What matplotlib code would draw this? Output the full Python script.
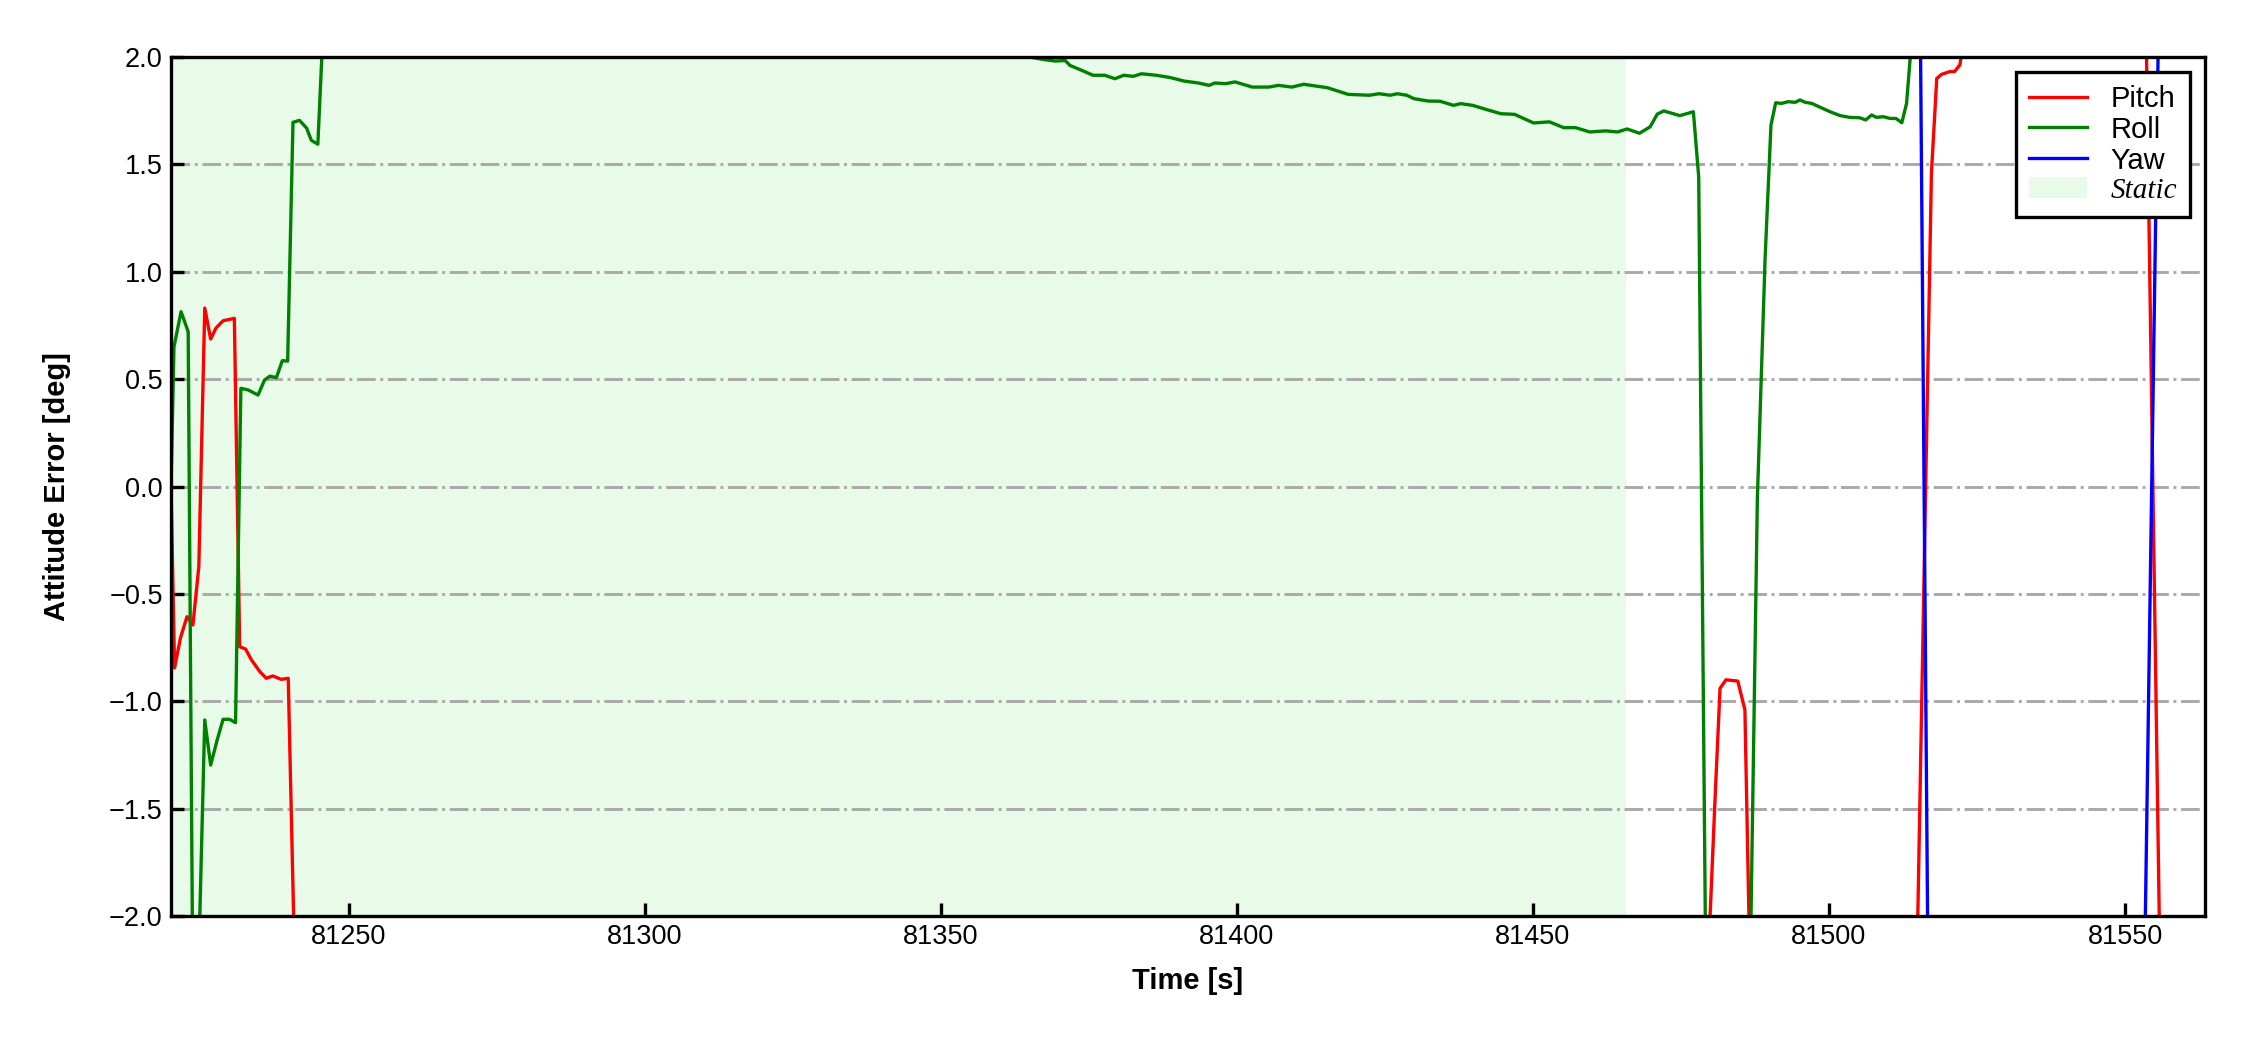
import matplotlib.pyplot as plt

# attitude error vs time
pitch_t = [81220.0, 81220.6, 81221.6, 81222.7, 81223.7, 81224.7, 81225.7, 81226.7,
           81227.6, 81228.8, 81230.7, 81231.6, 81232.6, 81233.6, 81235.0, 81236.1,
           81237.2, 81238.6, 81239.8, 81241.2, 81479.0, 81480.7, 81481.6, 81482.6,
           81484.6, 81485.8, 81486.9, 81514.6, 81517.3, 81518.2, 81519.0, 81520.4,
           81521.2, 81522.1, 81523.2, 81553.2, 81556.2, 81563.5]
pitch_v = [0.0, -0.845, -0.705, -0.606, -0.645, -0.373, 0.831, 0.687,
           0.738, 0.772, 0.783, -0.746, -0.757, -0.808, -0.862, -0.893,
           -0.882, -0.898, -0.893, -2.6, -2.6, -1.49, -0.94, -0.90,
           -0.906, -1.04, -2.6, -2.6, 1.46, 1.90, 1.919, 1.932,
           1.932, 1.963, 2.15, 2.8, -2.8, -2.8]

roll_t = [81220.0, 81220.5, 81221.7, 81222.9, 81223.7, 81224.5, 81225.7, 81226.7,
          81227.8, 81228.8, 81229.9, 81230.9, 81231.8, 81233.0, 81234.7, 81235.8,
          81236.7, 81237.8, 81238.8, 81239.7, 81240.6, 81241.7, 81242.9, 81243.7,
          81244.8, 81245.8, 81300.0, 81355.0, 81365.0, 81367.4, 81369.4, 81371.0,
          81371.8, 81373.8, 81375.7, 81377.7, 81379.4, 81380.9, 81382.5, 81383.9,
          81386.4, 81388.8, 81391.1, 81393.5, 81395.3, 81396.3, 81398.1, 81399.7,
          81402.6, 81405.4, 81407.0, 81409.3, 81411.3, 81415.3, 81418.8, 81422.4,
          81424.0, 81425.9, 81427.1, 81428.7, 81429.9, 81432.3, 81434.3, 81436.6,
          81437.8, 81439.8, 81442.2, 81444.6, 81446.9, 81450.1, 81452.8, 81455.2,
          81457.2, 81459.6, 81462.3, 81464.3, 81465.9, 81468.0, 81469.8, 81471.0,
          81472.1, 81474.8, 81477.1, 81478.0, 81479.3, 81486.5, 81487.9, 81489.2,
          81490.2, 81491.0, 81492.0, 81493.1, 81494.3, 81495.1, 81496.0, 81497.1,
          81498.5, 81500.2, 81501.9, 81503.5, 81505.2, 81506.2, 81507.2, 81508.0,
          81509.2, 81510.3, 81511.3, 81512.3, 81513.1, 81514.3, 81563.5]
roll_v = [0.0, 0.65, 0.814, 0.721, -2.4, -2.4, -1.087, -1.297,
          -1.18, -1.084, -1.084, -1.10, 0.457, 0.45, 0.426, 0.496,
          0.514, 0.507, 0.586, 0.584, 1.696, 1.705, 1.669, 1.612,
          1.594, 2.2, 2.3, 2.06, 2.0, 1.988, 1.981, 1.984,
          1.961, 1.938, 1.915, 1.915, 1.899, 1.915, 1.91, 1.922,
          1.915, 1.904, 1.888, 1.879, 1.868, 1.879, 1.876, 1.884,
          1.86, 1.86, 1.868, 1.86, 1.873, 1.857, 1.826, 1.822,
          1.829, 1.822, 1.829, 1.822, 1.806, 1.795, 1.794, 1.775,
          1.783, 1.775, 1.755, 1.736, 1.733, 1.693, 1.698, 1.671,
          1.671, 1.651, 1.656, 1.651, 1.665, 1.645, 1.675, 1.734,
          1.749, 1.727, 1.745, 1.44, -2.6, -2.6, -0.06, 1.055,
          1.683, 1.787, 1.784, 1.792, 1.789, 1.80, 1.789, 1.784,
          1.766, 1.745, 1.727, 1.719, 1.717, 1.707, 1.73, 1.719,
          1.722, 1.714, 1.714, 1.694, 1.784, 2.2, 2.5]

yaw_t = [81220.0, 81515.0, 81517.0, 81553.0, 81556.0, 81563.5]
yaw_v = [3.6, 3.6, -3.2, -2.8, 2.8, 2.8]

static_start = 81220.0
static_end = 81465.8
y_ticks = [-2.0, -1.5, -1.0, -0.5, 0.0, 0.5, 1.0, 1.5, 2.0]

plt.rcParams['font.family'] = ['Liberation Sans', 'DejaVu Sans']

fig = plt.figure(figsize=(7.5, 3.5), dpi=300)
ax = fig.add_axes([0.076, 0.1276, 0.904, 0.8181])

ax.axvspan(static_start, static_end, color='lightgreen', alpha=0.2, lw=0, label='Static')
ax.plot(pitch_t, pitch_v, color='red', lw=0.8, label='Pitch')
ax.plot(roll_t, roll_v, color='green', lw=0.8, label='Roll')
ax.plot(yaw_t, yaw_v, color='blue', lw=0.8, label='Yaw')

ax.set_xlim(81220, 81563.5)
ax.set_ylim(-2, 2)
ax.set_yticks(y_ticks)
ax.ticklabel_format(axis='x', useOffset=False, style='plain')
ax.grid(axis='y', linestyle='-.', color='darkgray', lw=0.7)
ax.tick_params(direction='in', length=3.2, width=0.8, labelsize=6.5, pad=2)
for s in ax.spines.values():
    s.set_linewidth(0.8)

ax.set_xlabel('Time [s]', fontsize=7, fontweight='bold', labelpad=4)
ax.set_ylabel('Attitude Error [deg]', fontsize=7, fontweight='bold', labelpad=9)

h, l = ax.get_legend_handles_labels()
order = [1, 2, 3, 0]
leg = ax.legend([h[i] for i in order], [l[i] for i in order], loc='upper right',
                fontsize=7, fancybox=False, edgecolor='black', framealpha=1,
                labelspacing=0.1, borderpad=0.45)
leg.get_frame().set_linewidth(0.8)
leg.get_texts()[3].set_fontfamily('Liberation Serif')
leg.get_texts()[3].set_fontstyle('italic')

fig.savefig('out.png', dpi=300)
